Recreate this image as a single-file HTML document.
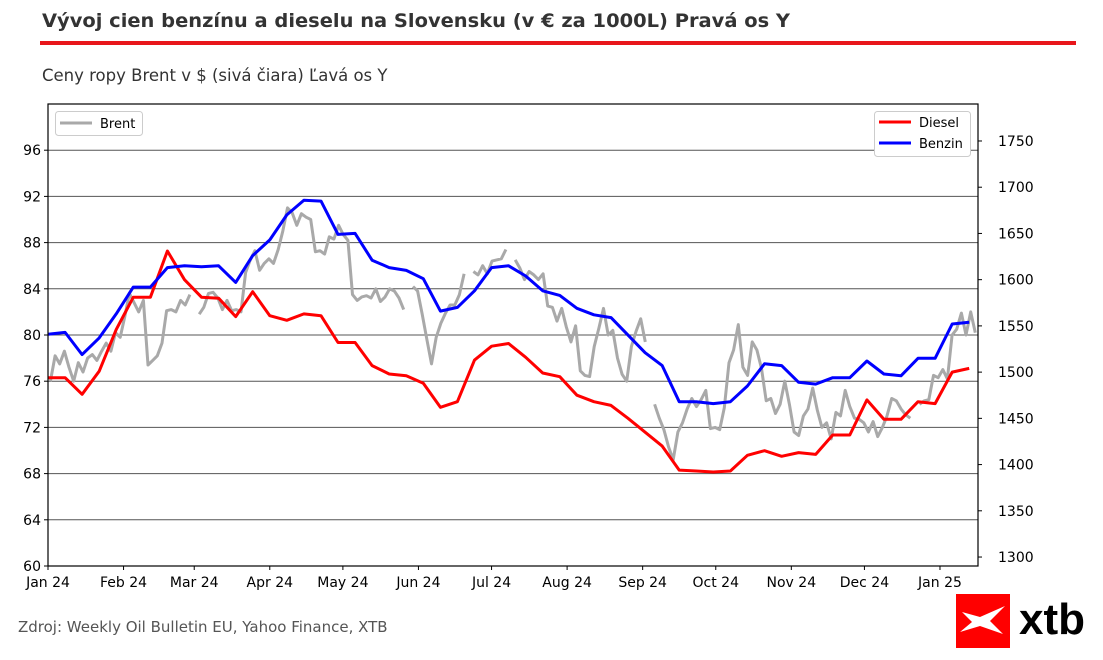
<!DOCTYPE html>
<html><head><meta charset="utf-8">
<style>
html,body{margin:0;padding:0;background:#fff;width:1103px;height:660px;overflow:hidden}
svg{display:block;font-family:"DejaVu Sans","Liberation Sans",sans-serif}
</style></head>
<body>
<svg id="chart" width="1103" height="660" viewBox="0 0 1103 660">
  <text x="42" y="27" font-size="19" font-weight="bold" fill="#333" textLength="748" lengthAdjust="spacingAndGlyphs">Vývoj cien benzínu a dieselu na Slovensku (v € za 1000L) Pravá os Y</text>
  <rect x="40" y="41" width="1036" height="4" fill="#e8161b"/>
  <text x="42" y="81" font-size="16.5" fill="#333">Ceny ropy Brent v $ (sivá čiara) Ľavá os Y</text>
  <g id="grid"></g>
  <g id="series"></g>
  <rect x="48" y="104" width="930" height="462" fill="none" stroke="#000" stroke-width="1.2"/>
  <g id="axes"></g>
  <g>
    <rect x="55.5" y="111.5" width="87" height="24" rx="3" fill="#fff" stroke="#ccc"/>
    <line x1="60" y1="123" x2="92" y2="123" stroke="#a9a9a9" stroke-width="3"/>
    <text x="100" y="128" font-size="13" fill="#000">Brent</text>
  </g>
  <g>
    <rect x="874.5" y="111.5" width="96" height="45" rx="3" fill="#fff" stroke="#ccc"/>
    <line x1="879" y1="122" x2="911" y2="122" stroke="#ff0000" stroke-width="3"/>
    <text x="919" y="127" font-size="13" fill="#000">Diesel</text>
    <line x1="879" y1="143" x2="911" y2="143" stroke="#0000ff" stroke-width="3"/>
    <text x="919" y="148" font-size="13" fill="#000">Benzin</text>
  </g>
  <text x="18" y="632" font-size="15" fill="#555">Zdroj: Weekly Oil Bulletin EU, Yahoo Finance, XTB</text>
  <g>
    <rect x="956" y="594" width="54" height="54" fill="#ff0000"/>
    <path d="M962 612 L980 617 L1005 606 L990 621 L1003 634 L980 626 L960 632 L972 622 Z" fill="#fff"/>
    <text x="1019" y="634" font-size="44" font-weight="bold" fill="#000" font-family="Liberation Sans, sans-serif">xtb</text>
  </g>
</svg>
<script>
const xMonthLabels = ["Jan 24","Feb 24","Mar 24","Apr 24","May 24","Jun 24","Jul 24","Aug 24","Sep 24","Oct 24","Nov 24","Dec 24","Jan 25"];
const xMonthDays = [0,31,60,91,121,152,182,213,244,274,305,335,366];
const leftTicks = [60,64,68,72,76,80,84,88,92,96];
const rightTicks = [1300,1350,1400,1450,1500,1550,1600,1650,1700,1750];
const diesel = [1494,1494,1476,1501,1546,1581,1581,1631,1600,1581,1580,1560,1587,1561,1556,1563,1561,1532,1532,1507,1498,1496,1488,1462,1468,1513,1528,1531,1516,1499,1495,1475,1468,1464,1450,1435,1420,1394,1393,1392,1393,1410,1415,1409,1413,1411,1432,1432,1470,1449,1449,1468,1466,1500,1504];
const benzin = [1541,1543,1519,1537,1563,1592,1592,1613,1615,1614,1615,1597,1626,1643,1670,1686,1685,1649,1650,1621,1613,1610,1601,1566,1570,1588,1613,1615,1604,1588,1583,1569,1562,1559,1540,1521,1507,1468,1468,1466,1468,1485,1509,1507,1489,1487,1494,1494,1512,1498,1496,1515,1515,1552,1554];
const brent = [76,78.2,77.5,78.6,77.2,76,77.6,76.8,78,78.3,77.8,78.6,79.3,78.6,80.2,79.8,81.6,83.6,82.8,82,83,77.4,77.8,78.2,79.3,82.1,82.2,82,83,82.6,83.5,null,81.8,82.4,83.6,83.7,83.2,82.2,83,82.1,82.2,82,85.4,86.5,87.3,85.6,86.2,86.6,86.2,87.4,89,91,90.6,89.5,90.5,90.2,90,87.2,87.3,87,88.5,88.3,89.5,88.7,88.2,83.5,83,83.3,83.4,83.2,84,82.9,83.3,84,83.8,83.2,82.2,null,84.2,83.8,81.8,79.6,77.5,79.8,81,81.9,82.6,82.6,83.5,85.3,null,85.5,85.2,86,85.3,86.4,86.5,86.6,87.4,null,86.5,85.8,84.8,85.5,85.2,84.8,85.3,82.5,82.4,81.2,82.3,80.7,79.4,80.8,76.9,76.5,76.4,79,80.6,82.3,80,80.4,78,76.6,76,79,80.3,81.4,79.4,null,74,72.8,71.8,70.3,69.2,71.6,72.4,73.6,74.5,73.8,74.4,75.2,71.9,72,71.8,73.7,77.6,78.7,80.9,77.2,76.5,79.4,78.7,77.1,74.3,74.5,73.2,74,76,74,71.6,71.3,73,73.6,75.4,73.5,72,72.4,71,73.3,73,75.2,73.8,72.8,72.7,72.4,71.6,72.5,71.2,72,73,74.5,74.3,73.6,73.1,72.8,null,74,74.3,74.4,76.5,76.3,77,76.2,80,80.5,81.9,80,82,80.2];

const NS='http://www.w3.org/2000/svg';
const X0=48,X1=978,Y0=104,Y1=566;
const DAYS_END=381.6;
const xDay = d => X0 + d*(X1-X0)/DAYS_END;
const yL = v => Y1 - (v-60)*(Y1-Y0)/40;
const yR = v => Y1 - (v-1290.3)*(Y1-Y0)/(1790-1290.3);
function mk(tag, attrs, parent){const e=document.createElementNS(NS,tag);for(const k in attrs)e.setAttribute(k,attrs[k]);parent.appendChild(e);return e;}
const grid=document.getElementById('grid'), axes=document.getElementById('axes'), series=document.getElementById('series');

leftTicks.forEach(t=>{
  const y=yL(t);
  if(t>60){const g=mk('line',{x1:X0,x2:X1,y1:y,y2:y,stroke:'#555','stroke-width':1},grid);
    
    }
  const tk=mk('line',{x1:X0-4,x2:X0,y1:y,y2:y,stroke:'#000'},axes);
  
  
  const tx=mk('text',{x:X0-7,y:y+5,'font-size':14,'text-anchor':'end',fill:'#000'},axes);
  tx.textContent=t;
  
  
});
rightTicks.forEach(t=>{
  const y=yR(t);
  const tk=mk('line',{x1:X1,x2:X1+4,y1:y,y2:y,stroke:'#000'},axes);
  
  
  const tx=mk('text',{x:X1+20,y:y+5,'font-size':14,fill:'#000'},axes);
  tx.textContent=t;
  
  
});
xMonthDays.forEach((d,i)=>{
  const x=xDay(d);
  const tk=mk('line',{x1:x,x2:x,y1:Y1,y2:Y1+4,stroke:'#000'},axes);
  
  
  const tx=mk('text',{x:x,y:Y1+21,'font-size':14,'text-anchor':'middle',fill:'#000'},axes);
  tx.textContent=xMonthLabels[i];
  
  
});

(function(){
  const n=brent.length, start=1, end=380.5;
  let d='', pen=false;
  brent.forEach((v,i)=>{
    if(v===null){pen=false;return;}
    const x=xDay(start+(end-start)*i/(n-1)), y=yL(v);
    d+=(pen?'L':'M')+x.toFixed(1)+' '+y.toFixed(1)+' ';pen=true;
  });
  const p=mk('path',{d:d,fill:'none',stroke:'#a9a9a9','stroke-width':3,'stroke-linejoin':'round'},series);
  
  
})();
function weekly(arr,color,name){
  const d=arr.map((v,i)=>(i?'L':'M')+xDay(i*7).toFixed(1)+' '+yR(v).toFixed(1)).join(' ');
  const p=mk('path',{d:d,fill:'none',stroke:color,'stroke-width':3,'stroke-linejoin':'round'},series);
  
  
}
weekly(diesel,'#ff0000','diesel-line');
weekly(benzin,'#0000ff','benzin-line');
</script>
</body></html>
